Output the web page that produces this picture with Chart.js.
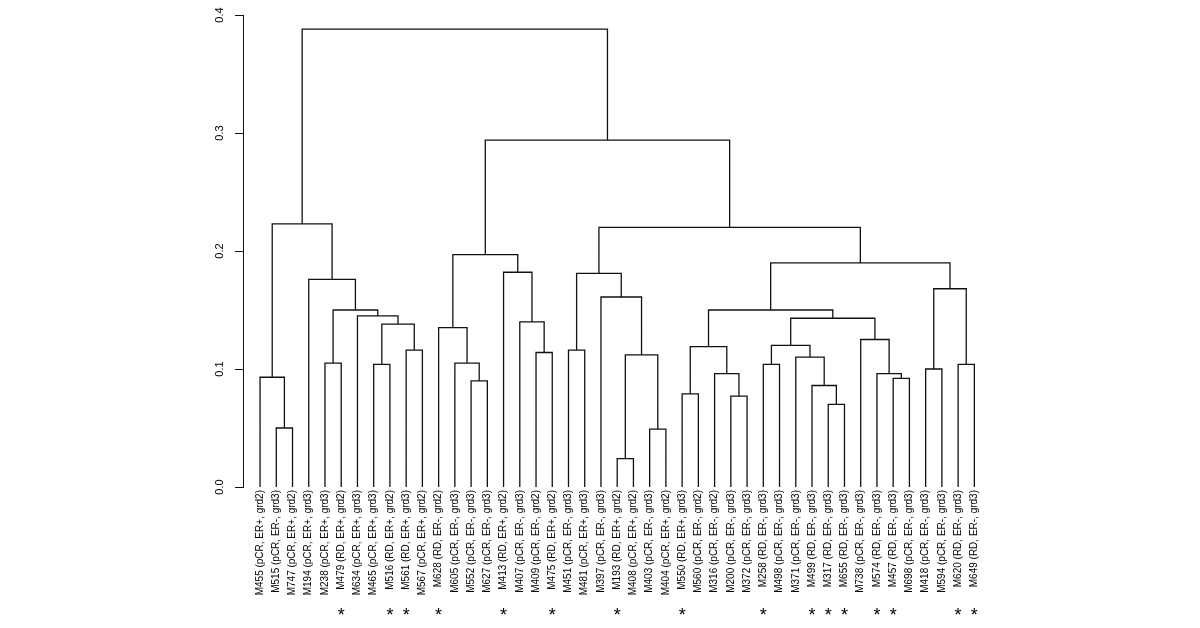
<!DOCTYPE html>
<html><head><meta charset="utf-8">
<script src="https://cdn.jsdelivr.net/npm/chart.js@4.4.1/dist/chart.umd.min.js"></script>
<style>html,body{margin:0;padding:0;background:#fff}#wrap{width:1200px;height:628px}</style>
</head><body><div id="wrap"><canvas id="c" width="1200" height="628"></canvas></div>
<script>
// Leaf labels, in dendrogram order (left to right)
const leafLabels = [
  "M455 (pCR, ER+, grd2)","M515 (pCR, ER-, grd3)","M747 (pCR, ER+, grd2)","M194 (pCR, ER+, grd3)",
  "M238 (pCR, ER+, grd3)","M479 (RD, ER+, grd2)","M634 (pCR, ER+, grd3)","M465 (pCR, ER+, grd3)",
  "M516 (RD, ER+, grd2)","M561 (RD, ER+, grd3)","M567 (pCR, ER+, grd2)","M628 (RD, ER-, grd2)",
  "M605 (pCR, ER-, grd3)","M552 (pCR, ER-, grd3)","M627 (pCR, ER-, grd3)","M413 (RD, ER+, grd2)",
  "M407 (pCR, ER-, grd3)","M409 (pCR, ER-, grd2)","M475 (RD, ER+, grd2)","M451 (pCR, ER-, grd3)",
  "M481 (pCR, ER+, grd3)","M397 (pCR, ER-, grd3)","M193 (RD, ER+, grd2)","M408 (pCR, ER+, grd2)",
  "M403 (pCR, ER-, grd3)","M404 (pCR, ER+, grd2)","M550 (RD, ER+, grd3)","M560 (pCR, ER-, grd2)",
  "M316 (pCR, ER-, grd2)","M200 (pCR, ER-, grd3)","M372 (pCR, ER-, grd3)","M258 (RD, ER-, grd3)",
  "M498 (pCR, ER-, grd3)","M371 (pCR, ER-, grd3)","M499 (RD, ER-, grd3)","M317 (RD, ER-, grd3)",
  "M655 (RD, ER-, grd3)","M738 (pCR, ER-, grd3)","M574 (RD, ER-, grd3)","M457 (RD, ER-, grd3)",
  "M698 (pCR, ER-, grd3)","M418 (pCR, ER-, grd3)","M594 (pCR, ER-, grd3)","M620 (RD, ER-, grd3)",
  "M649 (RD, ER-, grd3)"
];
// Leaves marked with an asterisk (RD cases)
const starred = leafLabels.map(l => l.indexOf("(RD") >= 0);

// hclust-style merge table: negative = leaf number (1-based), positive = earlier merge (1-based)
const mergeLeft  = [-2,-1,-5,-8,-10,4,-7,3,-4,2,-14,-13,-12,-18,-17,-16,13,-20,-23,-25,19,-22,18,-27,-30,-29,24,-32,-36,-35,-34,28,-40,-39,-38,32,27,-42,-44,38,37,23,17,10];
const mergeRight = [-3,1,-6,-9,-11,5,6,7,8,9,-15,11,12,-19,14,15,16,-21,-24,-26,20,21,22,-28,-31,25,26,-33,-37,29,30,31,-41,33,34,35,36,-43,-45,39,40,41,42,43];
const mergeHeight = [0.050,0.093,0.105,0.104,0.116,0.138,0.145,0.150,0.176,0.223,
  0.090,0.105,0.135,0.114,0.140,0.182,0.197,0.116,0.024,0.049,
  0.112,0.161,0.181,0.079,0.077,0.096,0.119,0.104,0.070,0.086,
  0.110,0.120,0.092,0.096,0.125,0.143,0.150,0.100,0.104,0.168,
  0.190,0.220,0.294,0.388];

const yTicks = [0, 0.1, 0.2, 0.3, 0.4];

// Build dendrogram segments from the merge table
const nodeX = [], nodeH = [];
function pos(ref) {
  return ref < 0 ? { x: -ref - 1, h: 0 } : { x: nodeX[ref - 1], h: nodeH[ref - 1] };
}
const segs = [];
for (let i = 0; i < mergeHeight.length; i++) {
  const a = pos(mergeLeft[i]), b = pos(mergeRight[i]), h = mergeHeight[i];
  nodeX.push((a.x + b.x) / 2); nodeH.push(h);
  segs.push({x: a.x, y: a.h}, {x: a.x, y: h}, {x: b.x, y: h}, {x: b.x, y: b.h}, {x: b.x, y: null});
}

Chart.defaults.font.family = '"Liberation Sans", Arial, Helvetica, sans-serif';
Chart.defaults.color = '#000';

const starPlugin = {
  id: 'stars',
  afterDraw(chart) {
    const ctx = chart.ctx, xs = chart.scales.x;
    ctx.save();
    ctx.font = '18px "Liberation Sans", Arial, sans-serif';
    ctx.fillStyle = '#000';
    ctx.textAlign = 'center';
    ctx.textBaseline = 'alphabetic';
    const m = ctx.measureText('*');
    const off = (m.actualBoundingBoxAscent - m.actualBoundingBoxDescent) / 2;
    leafLabels.forEach((l, i) => {
      if (starred[i]) ctx.fillText('*', xs.getPixelForValue(i), 611 + off);
    });
    ctx.restore();
  }
};

new Chart(document.getElementById('c'), {
  type: 'line',
  data: {
    datasets: [{
      data: segs,
      borderColor: '#111',
      borderWidth: 1.3,
      pointRadius: 0,
      pointHoverRadius: 0,
      fill: false,
      tension: 0,
      spanGaps: false
    }]
  },
  options: {
    responsive: false,
    devicePixelRatio: 1,
    animation: false,
    layout: { padding: { left: 183, right: 208.6, top: 15, bottom: 0 } },
    plugins: { legend: { display: false }, tooltip: { enabled: false } },
    scales: {
      x: {
        type: 'linear',
        min: -1.05,
        max: 45.05,
        afterBuildTicks: s => { s.ticks = leafLabels.map((_, i) => ({ value: i })); },
        afterFit: s => { s.height = 141; },
        grid: { display: false, drawTicks: false },
        border: { display: false },
        ticks: {
          autoSkip: false,
          minRotation: 90,
          maxRotation: 90,
          padding: 3,
          font: { size: 10 },
          color: '#000',
          callback: v => leafLabels[v]
        }
      },
      y: {
        min: 0,
        max: 0.4,
        afterBuildTicks: s => { s.ticks = yTicks.map(v => ({ value: v })); },
        afterFit: s => { s.width = 60; },
        grid: { drawOnChartArea: false, drawTicks: true, tickLength: 8, color: '#111', lineWidth: 1 },
        border: { display: true, color: '#111', width: 1 },
        ticks: {
          minRotation: 90,
          maxRotation: 90,
          crossAlign: 'center',
          padding: 7,
          font: { size: 11 },
          color: '#000',
          callback: v => v.toFixed(1)
        }
      }
    }
  },
  plugins: [starPlugin]
});
</script>
</body></html>
